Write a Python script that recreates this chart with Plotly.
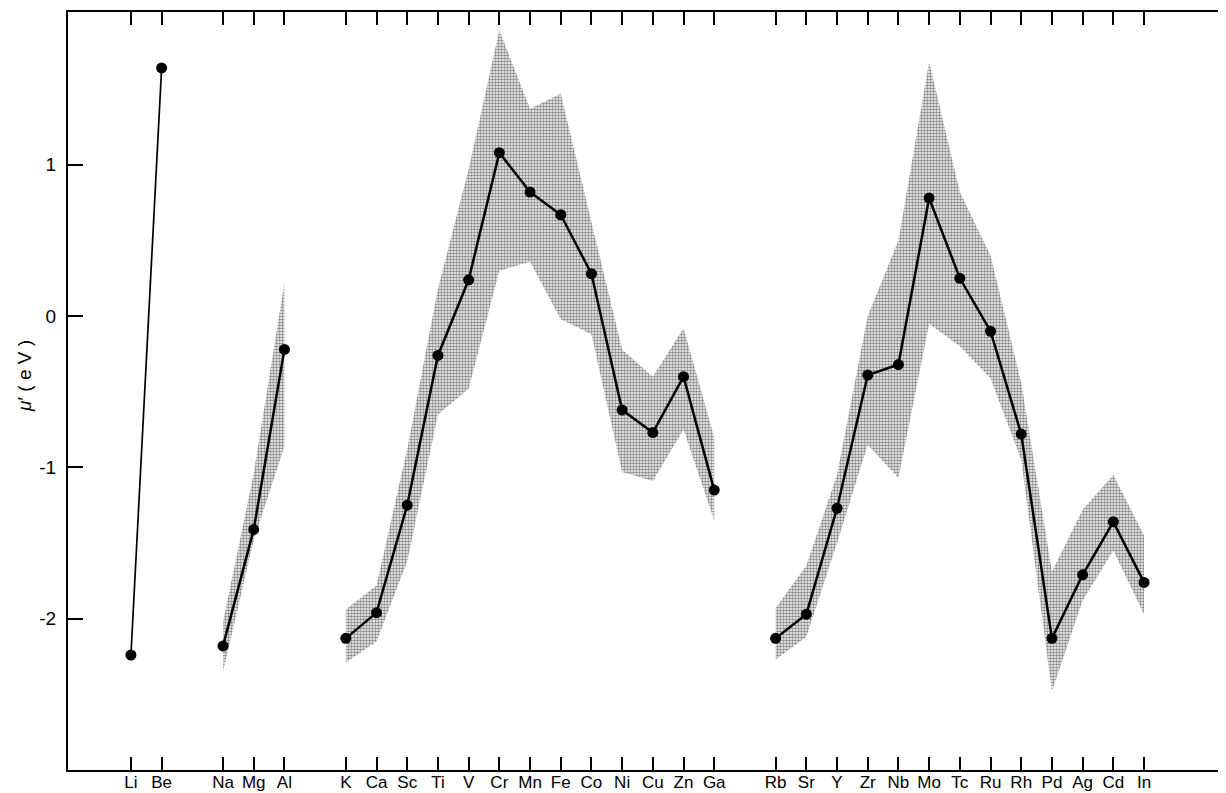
import plotly.graph_objects as go

# ---- data ----
group_li = ["Li", "Be"]
mu_li = [-2.24, 1.64]

group_na = ["Na", "Mg", "Al"]
mu_na = [-2.18, -1.41, -0.22]
up_na = [-2.02, -1.04, 0.22]
lo_na = [-2.35, -1.48, -0.86]

group_k = ["K", "Ca", "Sc", "Ti", "V", "Cr", "Mn", "Fe", "Co", "Ni", "Cu", "Zn", "Ga"]
mu_k = [-2.13, -1.96, -1.25, -0.26, 0.24, 1.08, 0.82, 0.67, 0.28, -0.62, -0.77, -0.40, -1.15]
up_k = [-1.94, -1.78, -0.88, 0.18, 0.97, 1.89, 1.37, 1.47, 0.62, -0.22, -0.40, -0.08, -0.80]
lo_k = [-2.29, -2.15, -1.62, -0.65, -0.48, 0.30, 0.36, -0.02, -0.12, -1.03, -1.09, -0.75, -1.35]

group_rb = ["Rb", "Sr", "Y", "Zr", "Nb", "Mo", "Tc", "Ru", "Rh", "Pd", "Ag", "Cd", "In"]
mu_rb = [-2.13, -1.97, -1.27, -0.39, -0.32, 0.78, 0.25, -0.10, -0.78, -2.13, -1.71, -1.36, -1.76]
up_rb = [-1.93, -1.65, -1.05, 0.00, 0.50, 1.68, 0.82, 0.40, -0.44, -1.69, -1.28, -1.05, -1.45]
lo_rb = [-2.27, -2.12, -1.50, -0.85, -1.07, -0.05, -0.20, -0.41, -0.95, -2.48, -1.88, -1.55, -1.97]

y_ticks = [-2, -1, 0, 1]
y_ticktext = ["-2", "-1", "0", "1"]

groups = [group_li, group_na, group_k, group_rb]
# positions: one empty slot between groups
positions = []
p = 0
for g in groups:
    pos = list(range(p, p + len(g)))
    positions.append(pos)
    p = pos[-1] + 2

x_li, x_na, x_k, x_rb = positions
all_x = x_li + x_na + x_k + x_rb
all_names = group_li + group_na + group_k + group_rb

fig = go.Figure()

pattern = dict(shape=".", fgcolor="#111111", bgcolor="white", size=3, solidity=0.6)

for xs, up, lo in [(x_na, up_na, lo_na), (x_k, up_k, lo_k), (x_rb, up_rb, lo_rb)]:
    fig.add_trace(go.Scatter(
        x=xs + xs[::-1], y=up + lo[::-1],
        mode="lines", line=dict(width=0, color="rgba(0,0,0,0)"),
        fill="toself", fillcolor="white", fillpattern=pattern,
        hoverinfo="skip", showlegend=False))

for xs, ys, w in [(x_li, mu_li, 1.7), (x_na, mu_na, 2.5), (x_k, mu_k, 2.5), (x_rb, mu_rb, 2.5)]:
    fig.add_trace(go.Scatter(
        x=xs, y=ys, mode="lines+markers",
        line=dict(color="black", width=w),
        marker=dict(color="black", size=11),
        showlegend=False))

# short tick marks at the cropped right edge
for yv in y_ticks:
    fig.add_shape(type="line", xref="paper", yref="y", x0=0.995, x1=1.0, y0=yv, y1=yv,
                  line=dict(color="black", width=1.5))

fig.add_annotation(text="<i>μ</i>′ ( e V )", textangle=-90, xref="paper", yref="paper",
                   x=-0.037, y=0.52, xanchor="center", yanchor="middle", showarrow=False,
                   font=dict(size=19, color="black", family="Liberation Sans"))

# the page body adds an 8px offset; size the figure so the plot frame lands where the reference has it
fig.update_layout(
    width=1218, height=785,
    margin=dict(l=60, r=0, t=4, b=23),
    paper_bgcolor="white", plot_bgcolor="white",
    font=dict(family="Liberation Sans", size=18, color="black"),
    xaxis=dict(range=[-2.05, 35.67], tickmode="array", tickvals=all_x, ticktext=all_names,
               ticks="inside", ticklen=13, tickwidth=1.5, tickcolor="black",
               showline=True, linecolor="black", linewidth=2, mirror="ticks",
               showgrid=False, zeroline=False, automargin=False,
               tickfont=dict(size=17), ticklabelstandoff=-4),
    yaxis=dict(range=[-3.0, 2.01], tickmode="array", tickvals=y_ticks, ticktext=y_ticktext,
               ticks="inside", ticklen=15, tickwidth=1.5, tickcolor="black",
               showline=True, linecolor="black", linewidth=2,
               showgrid=False, zeroline=False, automargin=False,
               tickfont=dict(size=19), ticklabelstandoff=6),
)

fig.write_html("out.html")
